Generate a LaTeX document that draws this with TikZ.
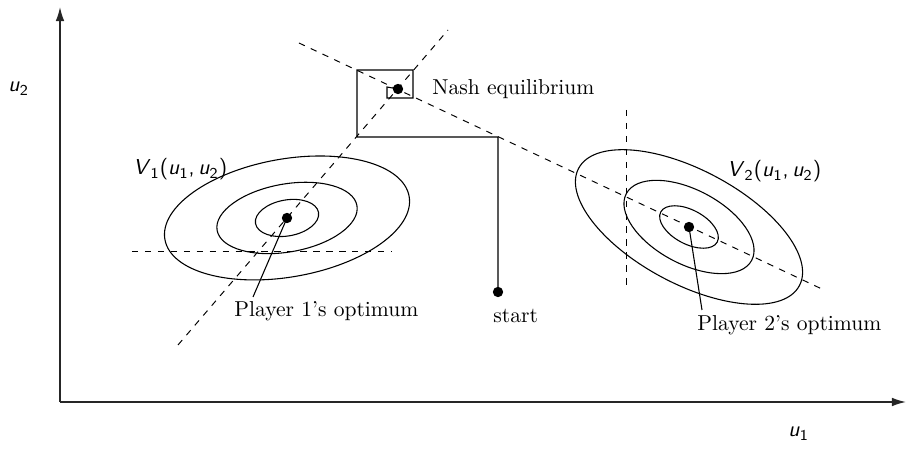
\documentclass[tikz,border=0pt]{standalone}
\usepackage{amsmath,amssymb}
\usepackage{xcolor}
\usepackage{tikz}
\usetikzlibrary{arrows.meta}
\newcommand{\sfv}[2]{\textit{#1}\textsubscript{#2}}

\begin{document}
\begin{tikzpicture}[x=4.636pt,y=4.636pt,
    axis/.style={line width=0.65pt,black!85,-{Latex[length=6.5pt,width=4pt]}},
    react/.style={dashed,line width=0.45pt},
    contour/.style={line width=0.5pt},
    optdot/.style={fill=black,draw=none},
    lbl/.style={inner sep=0pt,anchor=base west},
    mlbl/.style={inner sep=0pt,anchor=base west,font=\sffamily}]
  \useasboundingbox (-6.0,-4.8) rectangle (85.4,40.2);
  % Axes
  \coordinate (O) at (0,0);
  \coordinate (xend) at (84.6,0);
  \coordinate (yend) at (0,39.5);
  \draw[axis] (O) -- (xend);
  \draw[axis] (O) -- (yend);
  \node[mlbl] (u1lbl) at (72.8,-3.5) {\sfv{u}{1}};
  \node[mlbl] (u2lbl) at (-5.2,31.0) {\sfv{u}{2}};
  % Optima and equilibrium
  \coordinate (P1) at (22.7,18.4);
  \coordinate (P2) at (62.9,17.5);
  \coordinate (N) at (33.8,31.3);
  \coordinate (S) at (43.8,11.0);
  % Reaction curves
  \draw[react] (23.9,35.9) -- (76.4,11.2);
  \draw[react] (11.8,5.7) -- (38.8,37.2);
  \draw[react] (7.2,15.1) -- (33.2,15.1);
  \draw[react] (56.6,29.2) -- (56.6,11.2);
  % Level sets of V1
  \foreach \a/\b in {12.4/5.9,7.1/3.4,3.2/1.8}
    \draw[contour,rotate around={10:(P1)}] (P1) ellipse ({\a} and {\b});
  % Level sets of V2
  \foreach \a/\b in {12.5/5.7,7.1/3.7,3.2/1.7}
    \draw[contour,rotate around={-28:(P2)}] (P2) ellipse ({\a} and {\b});
  \node[mlbl] (v1lbl) at (7.3,22.7) {\sfv{V}{1}(\sfv{u}{1},\,\sfv{u}{2})};
  \node[mlbl] (v2lbl) at (66.7,22.5) {\sfv{V}{2}(\sfv{u}{1},\,\sfv{u}{2})};
  % Iteration from start
  \draw[contour] (S) -- (43.8,26.5) -- (29.7,26.5) -- (29.7,33.2)
    -- (35.3,33.2) -- (35.3,30.4) -- (32.7,30.4) -- (32.7,31.5) -- (N);
  % Dots
  \fill[optdot] (P1) circle[radius=2.4pt];
  \fill[optdot] (P2) circle[radius=2.4pt];
  \fill[optdot] (N) circle[radius=2.4pt];
  \fill[optdot] (S) circle[radius=2.4pt];
  % Labels
  \node[lbl] (nashlbl) at (37.2,30.7) {Nash equilibrium};
  \node[lbl] (startlbl) at (43.3,7.9) {start};
  \node[lbl] (p1lbl) at (17.4,8.5) {Player 1's optimum};
  \node[lbl] (p2lbl) at (63.7,7.1) {Player 2's optimum};
  \coordinate (p1tip) at (19.3,10.5);
  \coordinate (p2tip) at (64.2,9.2);
  \draw[contour] (P1) -- (p1tip);
  \draw[contour] (P2) -- (p2tip);
\end{tikzpicture}
\end{document}
